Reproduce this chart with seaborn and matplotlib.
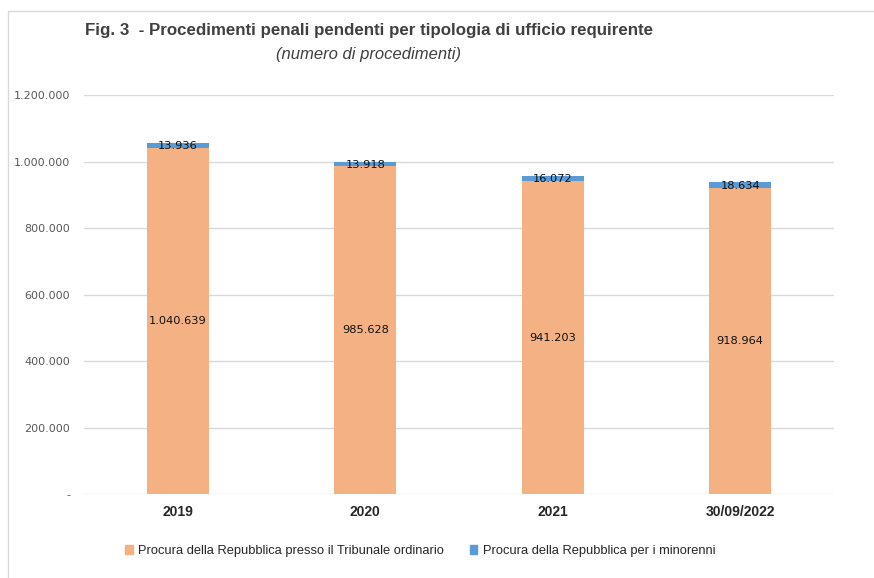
import matplotlib as mpl

mpl.use('Agg')
import matplotlib.pyplot as plt
import matplotlib.lines as mlines
import matplotlib.patches as mpatches
import pandas as pd
import seaborn as sns

# data
periods = ['2019', '2020', '2021', '30/09/2022']
ordinari = [1040639, 985628, 941203, 918964]
minorenni = [13936, 13918, 16072, 18634]
series_names = ['Procura della Repubblica presso il Tribunale ordinario',
                'Procura della Repubblica per i minorenni']
yticks = [0, 200000, 400000, 600000, 800000, 1000000, 1200000]

ORANGE = '#F4B183'
BLUE = '#5B9BD5'

sns.set_style('white')
plt.rcParams['font.family'] = ['Liberation Sans', 'DejaVu Sans']


def it_num(v):
    return '{:,}'.format(v).replace(',', '.')


df = pd.DataFrame({'period': periods, 'ord': ordinari, 'min': minorenni})
df['tot'] = df['ord'] + df['min']

fig = plt.figure(figsize=(8.74, 5.78), dpi=100)
ax = fig.add_axes([0.0961, 0.1453, 0.858, 0.6903])

sns.barplot(data=df, x='period', y='tot', color=BLUE, width=0.33,
            saturation=1, linewidth=0, ax=ax, zorder=3)
sns.barplot(data=df, x='period', y='ord', color=ORANGE, width=0.33,
            saturation=1, linewidth=0, ax=ax, zorder=4)

for i, row in df.iterrows():
    ax.text(i, row['ord'] / 2, it_num(row['ord']), ha='center', va='center',
            fontsize=8.2, family=['DejaVu Sans'], color='#111111', zorder=5)
    ax.text(i, row['ord'] + row['min'] / 2 - 2000, it_num(row['min']), ha='center',
            va='center', fontsize=8.2, family=['DejaVu Sans'], color='#111111', zorder=5)

ax.set_ylim(0, 1200000)
ax.set_xlim(-0.5, 3.5)
ax.set_yticks(yticks)
ax.set_yticklabels(['-' if t == 0 else it_num(t) for t in yticks],
                   fontsize=8, color='#595959', family=['DejaVu Sans'])
ax.tick_params(axis='y', length=0, pad=10)
ax.tick_params(axis='x', length=0, pad=8)
for lbl in ax.get_xticklabels():
    lbl.set_fontweight('bold')
    lbl.set_fontsize(10)
ax.grid(axis='y', color='#D9D9D9', linewidth=1, zorder=0)
ax.set_axisbelow(True)
ax.set_xlabel('')
ax.set_ylabel('')
for s in ax.spines.values():
    s.set_visible(False)

fig.text(85 / 874, 1 - 31 / 578,
         'Fig. 3  - Procedimenti penali pendenti per tipologia di ufficio requirente',
         fontsize=12.2, fontweight='bold', color='#404040', va='center', ha='left')
fig.text(368 / 874, 1 - 55 / 578, '(numero di procedimenti)',
         fontsize=12, fontstyle='italic', color='#404040', va='center', ha='center')

handles = [mpatches.Patch(color=ORANGE, label=series_names[0]),
           mpatches.Patch(color=BLUE, label=series_names[1])]
fig.legend(handles=handles, loc='center', bbox_to_anchor=(420 / 874, 1 - 551 / 578),
           ncol=2, frameon=False, fontsize=9.3, handlelength=0.6, handleheight=0.6,
           handletextpad=0.4, columnspacing=2.0)

# outer frame lines
fig.add_artist(mlines.Line2D([8 / 874, 1], [1 - 11 / 578] * 2, color='#D9D9D9',
                             lw=1, transform=fig.transFigure))
fig.add_artist(mlines.Line2D([8 / 874] * 2, [0, 1 - 11 / 578], color='#D9D9D9',
                             lw=1, transform=fig.transFigure))

fig.savefig('out.png', dpi=100)
